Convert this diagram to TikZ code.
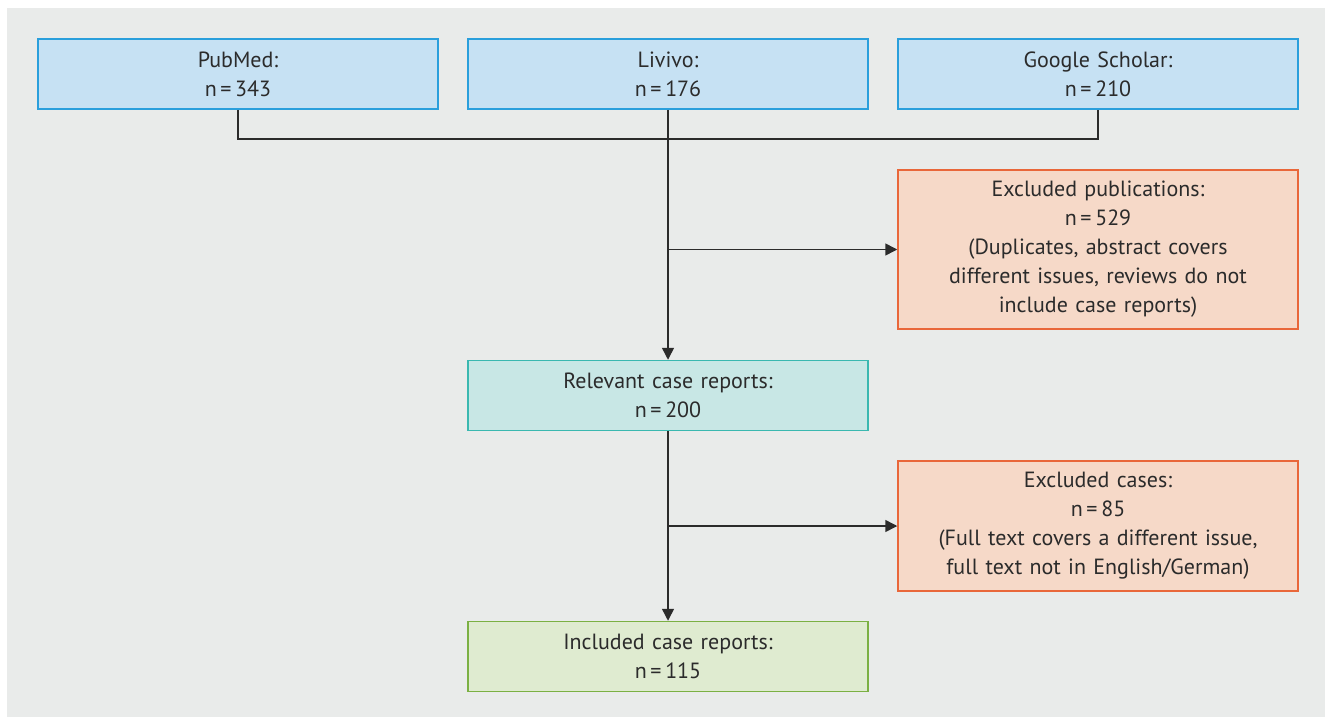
\documentclass[tikz,border=0pt]{standalone}
\usepackage{fontspec}
\setmainfont{PT Sans}
\usepackage{xcolor}
\usetikzlibrary{positioning,arrows.meta}
\definecolor{bgray}{HTML}{E9EBEA}
\definecolor{srcfill}{HTML}{C6E1F3}
\definecolor{srcdraw}{HTML}{2A9FDC}
\definecolor{relfill}{HTML}{C8E7E5}
\definecolor{reldraw}{HTML}{3AB8B0}
\definecolor{exfill}{HTML}{F6D9C8}
\definecolor{exdraw}{HTML}{E9673A}
\definecolor{incfill}{HTML}{DFEBD0}
\definecolor{incdraw}{HTML}{7BB043}
\definecolor{ink}{HTML}{2B2B2B}
\tikzset{
    flowbox/.style={
    rectangle,line width=0.75pt,minimum width=200pt,text width=190pt,align=center,inner sep=0pt,text=ink,font=\fontsize{11}{14.5}\selectfont
    },
    source/.style={
    flowbox,draw=srcdraw,fill=srcfill,minimum height=35pt
    },
    relevant/.style={
    flowbox,draw=reldraw,fill=relfill,minimum height=35pt
    },
    excluded/.style={
    flowbox,draw=exdraw,fill=exfill
    },
    included/.style={
    flowbox,draw=incdraw,fill=incfill,minimum height=35pt
    },
  line/.style={draw=ink, line width=0.75pt, -{Triangle[length=6pt,width=6pt]}},
  joinline/.style={draw=ink, line width=0.75pt},
}
\begin{document}
\begin{tikzpicture}[x=0.5pt,y=-0.5pt]
\useasboundingbox (0,0) rectangle (1325,717);
\fill[bgray] (7,8) rectangle (1325,717);

  \node[source] (pubmed) at (238,74) {PubMed:\\n\,=\,343};
  \node[source] (livivo) at (668,74) {Livivo:\\n\,=\,176};
  \node[source] (scholar) at (1098,74) {Google Scholar:\\n\,=\,210};
  \node[excluded,minimum height=79.5pt] (exclpub) at (1098,249.5) {Excluded publications:\\n\,=\,529\\(Duplicates, abstract covers\\different issues, reviews do not\\include case reports)};
  \node[relevant] (relev) at (668,395.5) {Relevant case reports:\\n\,=\,200};
  \node[excluded,minimum height=65pt] (exclcase) at (1098,526) {Excluded cases:\\n\,=\,85\\(Full text covers a different issue,\\full text not in English/German)};
  \node[included] (incl) at (668,656.5) {Included case reports:\\n\,=\,115};

  \coordinate (merge) at (668,139);
  \coordinate (fork1) at (exclpub.west -| livivo.south);
  \coordinate (fork2) at (exclcase.west -| relev.south);

  \path[joinline] (pubmed.south) |- (merge) -| (scholar.south);
  \path[line] (livivo.south) -- (relev.north);
  \path[line] (fork1) -- (exclpub.west);
  \path[line] (relev.south) -- (incl.north);
  \path[line] (fork2) -- (exclcase.west);
\end{tikzpicture}
\end{document}
